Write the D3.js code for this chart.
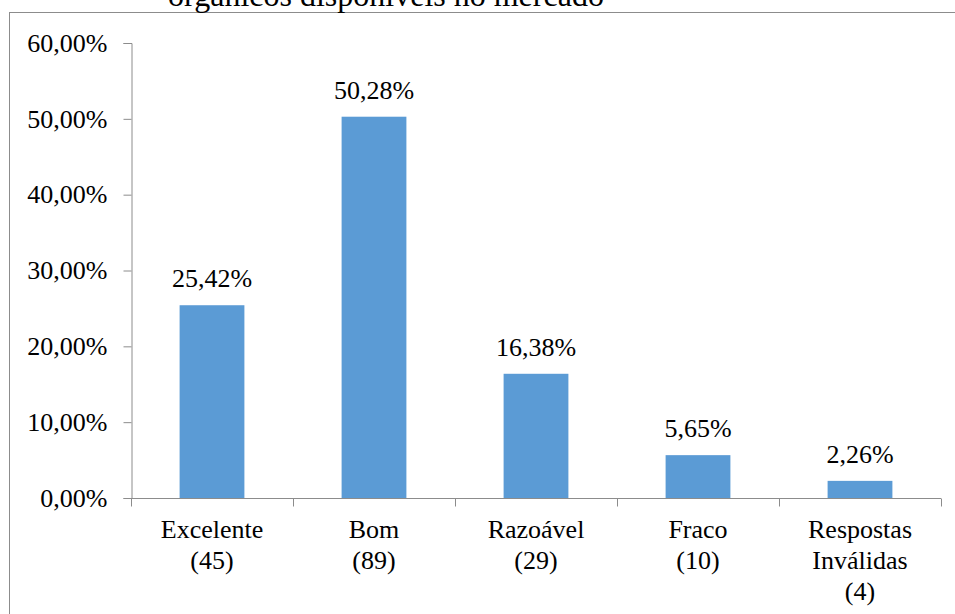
<!doctype html>
<html lang="pt">
<head>
<meta charset="utf-8">
<title>Avaliação</title>
<script src="https://cdn.jsdelivr.net/npm/d3@7"></script>
<style>
html, body { margin:0; padding:0; background:#fff; overflow:hidden; }
text { font-family: "Liberation Serif", "Times New Roman", serif; fill:#000; }
</style>
</head>
<body>
<svg id="chart" width="955" height="614"></svg>
<script>
// data
const categories = [["Excelente","(45)"], ["Bom","(89)"], ["Razoável","(29)"], ["Fraco","(10)"], ["Respostas","Inválidas","(4)"]];
const values = [25.42, 50.28, 16.38, 5.65, 2.26];
const yTicks = [0, 10, 20, 30, 40, 50, 60];
const title = "orgânicos disponíveis no mercado";

const fmt = v => v.toFixed(2).replace(".", ",") + "%";

const svg = d3.select("#chart");
const margin = {left: 131, right: 14, top: 43, bottom: 116};
const W = 955, H = 614;
const fs = "26px";

// outer chart border
svg.append("rect")
  .attr("x", 9.5).attr("y", 12.5)
  .attr("width", 960).attr("height", 620)
  .attr("fill", "none").attr("stroke", "#8c8c8c").attr("stroke-width", 1);

// title, cut off at top as in the original
svg.append("text")
  .attr("x", 386).attr("y", 6)
  .attr("text-anchor", "middle")
  .style("font-size", "32px")
  .text(title);

const x = d3.scaleBand()
  .domain(d3.range(categories.length))
  .range([margin.left, W - margin.right])
  .paddingInner(0.6).paddingOuter(0.3);

const y = d3.scaleLinear().domain([0, 60]).range([H - margin.bottom, margin.top]);

const g = svg.append("g");

// y axis
const yAxis = g.append("g")
  .attr("transform", `translate(${margin.left + 0.5},0)`)
  .call(d3.axisLeft(y).tickValues(yTicks).tickFormat(d => fmt(d)).tickSizeOuter(0).tickSize(8).tickPadding(16));
yAxis.select(".domain").attr("stroke", "#8c8c8c");
yAxis.selectAll(".tick line").attr("stroke", "#8c8c8c");
yAxis.selectAll("text").style("font-size", fs).attr("font-family", null);

// bars
g.selectAll("rect.bar")
  .data(values)
  .enter().append("rect")
  .attr("class", "bar")
  .attr("x", (d, i) => x(i))
  .attr("width", x.bandwidth())
  .attr("y", d => y(d))
  .attr("height", d => y(0) - y(d))
  .attr("fill", "#5b9bd5");

// value labels
g.selectAll("text.val")
  .data(values)
  .enter().append("text")
  .attr("class", "val")
  .attr("x", (d, i) => x(i) + x.bandwidth() / 2)
  .attr("y", d => y(d) - 18)
  .attr("text-anchor", "middle")
  .style("font-size", fs)
  .text(d => fmt(d));

// x axis line and boundary ticks
const step = (W - margin.right - margin.left) / categories.length;
const x0 = y(0) + 0.5;
g.append("line")
  .attr("x1", margin.left).attr("x2", W - margin.right)
  .attr("y1", x0).attr("y2", x0)
  .attr("stroke", "#8c8c8c");
g.selectAll("line.bt")
  .data(d3.range(categories.length + 1))
  .enter().append("line")
  .attr("class", "bt")
  .attr("x1", i => Math.round(margin.left + i * step) + 0.5)
  .attr("x2", i => Math.round(margin.left + i * step) + 0.5)
  .attr("y1", x0).attr("y2", x0 + 8)
  .attr("stroke", "#8c8c8c");

// category labels
const cat = g.selectAll("text.cat")
  .data(categories)
  .enter().append("text")
  .attr("class", "cat")
  .attr("text-anchor", "middle")
  .style("font-size", fs);
cat.each(function(lines, i) {
  const t = d3.select(this);
  lines.forEach((l, j) => {
    t.append("tspan")
      .attr("x", x(i) + x.bandwidth() / 2)
      .attr("y", 538 + j * 31)
      .text(l);
  });
});
</script>
</body>
</html>
